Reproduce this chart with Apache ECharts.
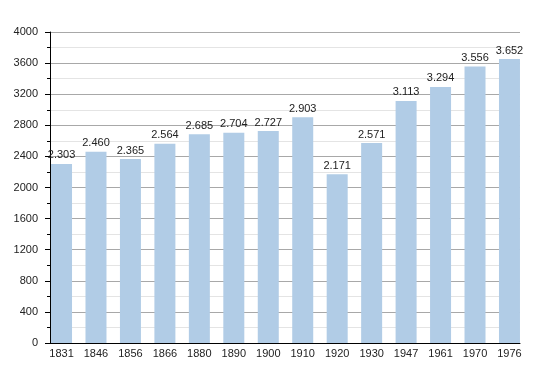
<!DOCTYPE html>
<html><head><meta charset="utf-8">
<script src="https://cdn.jsdelivr.net/npm/echarts@6/dist/echarts.min.js"></script>
<style>html,body{margin:0;padding:0;background:#fff}#c{width:550px;height:373px}</style>
</head><body><div id="c"></div>
<script>
const years = ['1831','1846','1856','1866','1880','1890','1900','1910','1920','1930','1947','1961','1970','1976'];
const population = [2303,2460,2365,2564,2685,2704,2727,2903,2171,2571,3113,3294,3556,3652];
const yMin = 0, yMax = 4000, yStep = 400;

const fmt = v => String(v).replace(/\B(?=(\d{3})+(?!\d))/g, '.');
const font = 'Liberation Sans, Arial, sans-serif';
const chart = echarts.init(document.getElementById('c'), null, {renderer:'canvas'});
chart.setOption({
  animation:false,
  grid:[
    {left:50, right:30, top:32, bottom:30},
    {left:44.3, right:23.3, top:32, bottom:30}
  ],
  xAxis:[
    {type:'category', gridIndex:0, data:years, axisLine:{lineStyle:{color:'#000',width:1}}, axisTick:{show:false}, axisLabel:{show:false}, splitLine:{show:false}},
    {type:'category', gridIndex:1, data:years, axisLine:{show:false}, axisTick:{show:false},
     axisLabel:{color:'#222', fontFamily:font, fontSize:11, margin:5}}
  ],
  yAxis:[
    {type:'value', gridIndex:0, min:yMin, max:yMax, interval:yStep,
     axisLine:{show:true, lineStyle:{color:'#000'}},
     axisTick:{show:true, length:5, lineStyle:{color:'#000'}},
     minorTick:{show:true, splitNumber:2, length:3, lineStyle:{color:'#000'}},
     minorSplitLine:{show:true, lineStyle:{color:'#e4e4e4'}},
     splitLine:{lineStyle:{color:'#a8a8a8'}},
     axisLabel:{color:'#222', fontFamily:font, fontSize:11, margin:12, formatter:v => String(v)}},
    {type:'value', gridIndex:1, min:yMin, max:yMax, show:false, splitLine:{show:false}}
  ],
  series:[{
    type:'bar', xAxisIndex:1, yAxisIndex:1, data:population, barWidth:21,
    itemStyle:{color:'#b1cce6'},
    label:{show:true, position:'top', distance:3, color:'#222', fontFamily:font, fontSize:11,
           formatter:p => fmt(p.value)}
  }]
});
</script></body></html>
